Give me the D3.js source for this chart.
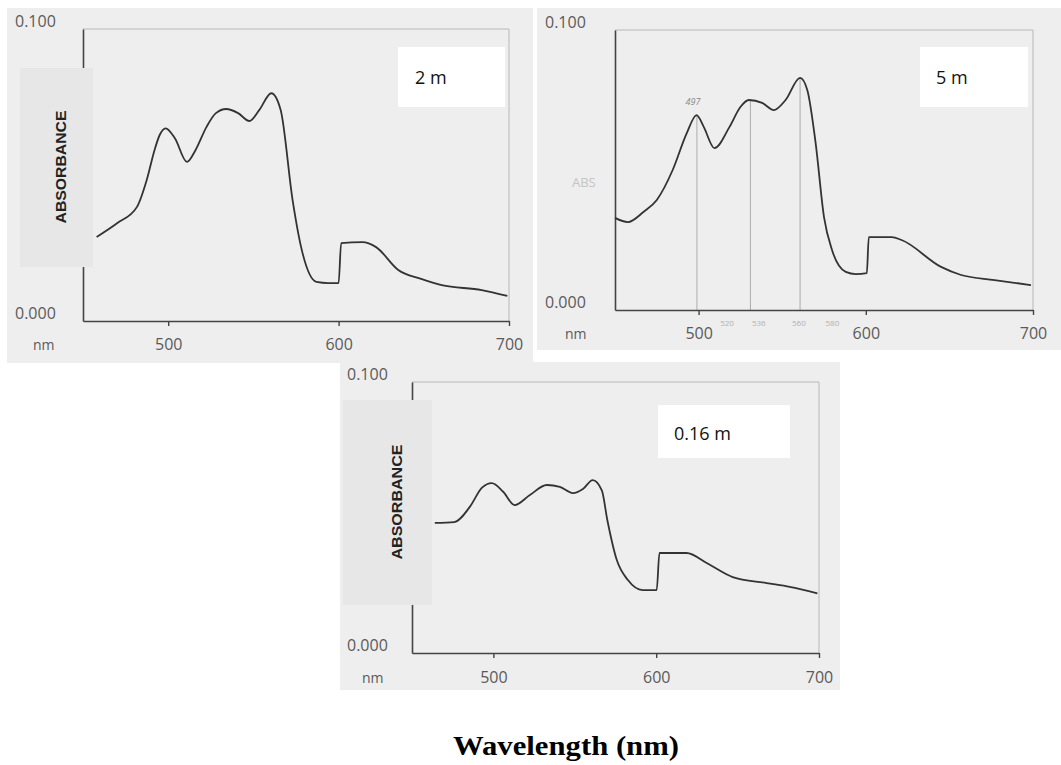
<!DOCTYPE html>
<html>
<head>
<meta charset="utf-8">
<script src="https://cdn.jsdelivr.net/npm/d3@7"></script>
<style>
  body { margin: 0; background: #fff; }
  svg { display: block; }
  .scan-text { font-family: 'Liberation Sans Narrow', 'Open Sans', sans-serif; fill: #5a5a5a; }
  .tag { font-family: 'Open Sans', 'Liberation Sans', sans-serif; fill: #111; }
</style>
</head>
<body>
<div id="box-div"></div>
<script>
// - data
const wavelengths2m = [458, 470, 481.6, 487.4, 492, 495, 498.5, 504, 511, 516, 522.5, 528, 534, 541, 547.7, 553.5, 560.5, 566, 573, 578, 587, 594, 600, 601.5, 614, 622, 635, 648, 660.5, 684, 699]
const absorb2m = [0.0288, 0.0335, 0.039, 0.0483, 0.0586, 0.0637, 0.066, 0.0625, 0.0545, 0.0585, 0.0665, 0.0712, 0.0726, 0.0712, 0.0685, 0.0723, 0.078, 0.0723, 0.0414, 0.0253, 0.0134, 0.013, 0.013, 0.0267, 0.027, 0.0253, 0.0175, 0.0145, 0.0123, 0.0106, 0.0086]

const wavelengths5m = [450, 457.7, 467, 475, 484.5, 492.8, 498.8, 503, 509.5, 518.5, 525, 530, 538, 545, 552, 560.7, 565, 570, 575, 579.8, 588, 594, 600.6, 601.8, 615.5, 621.4, 645, 657, 677, 698.8]
const absorb5m = [0.0329, 0.0314, 0.035, 0.0393, 0.05, 0.063, 0.0696, 0.0655, 0.0578, 0.0654, 0.0725, 0.075, 0.074, 0.0714, 0.075, 0.0829, 0.0786, 0.0596, 0.0332, 0.0214, 0.0136, 0.0128, 0.0132, 0.026, 0.026, 0.025, 0.0154, 0.0125, 0.0107, 0.0089]

const wavelengths016m = [464, 476, 485.6, 493, 499, 506, 513, 522.4, 532.8, 540.8, 548.8, 555, 561, 566.6, 570, 575.8, 582.5, 591.7, 600.3, 602, 618.7, 631, 647, 667.8, 682, 699]
const absorb016m = [0.048, 0.0483, 0.054, 0.061, 0.0627, 0.0595, 0.0546, 0.0583, 0.062, 0.0613, 0.059, 0.0605, 0.0638, 0.06, 0.049, 0.0343, 0.027, 0.0232, 0.0232, 0.0369, 0.0369, 0.0332, 0.028, 0.0258, 0.0244, 0.022]

const panelLabels = ['2 m', '5 m', '0.16 m']
const xTicks = [500, 600, 700]
const yTickLabels = ['0.000', '0.100']
const guideWavelengths = [499, 531, 560.7]   // thin markers drawn on the 5 m scan
const guideAbsorb = [0.0696, 0.075, 0.0829]
const guideNotes = ['520', '536', '560', '580']
const guideNoteWavelengths = [517, 536, 560, 580]

const series = [
  { w: wavelengths2m, a: absorb2m },
  { w: wavelengths5m, a: absorb5m },
  { w: wavelengths016m, a: absorb016m },
]

// - layout of each scanned panel (pixels)
const panels = [
  { scan: [7, 8, 526, 355], left: 83, right: 509, top: 29, bottom: 321,
    tagBox: [398, 47, 107, 60], tagX: 415, tagY: 84,
    yLabelX: 15, nmX: 33, labelRow: 350, absBox: [20, 68, 73, 199], absText: [61, 167, 113] },
  { scan: [537, 8, 524, 342], left: 615, right: 1033, top: 30, bottom: 310,
    tagBox: [920, 47, 108, 60], tagX: 936, tagY: 84,
    yLabelX: 545, nmX: 565, labelRow: 339, absFaint: [572, 187] },
  { scan: [340, 362, 500, 328], left: 412, right: 819, top: 382, bottom: 653,
    tagBox: [658, 405, 132, 53], tagX: 674, tagY: 440,
    yLabelX: 347, nmX: 362, labelRow: 683, absBox: [343, 400, 89, 205], absText: [397, 502, 115] },
]

const svg = d3.select('#box-div')
  .append('svg')
  .attr('width', 1061)
  .attr('height', 765)

panels.forEach((p, i) => drawPanel(p, series[i], panelLabels[i], i))

svg.append('text')
  .attr('x', 566)
  .attr('y', 755)
  .attr('text-anchor', 'middle')
  .attr('textLength', 226)
  .attr('lengthAdjust', 'spacingAndGlyphs')
  .style('font-family', "'Liberation Serif', 'Times New Roman', serif")
  .style('font-weight', 'bold')
  .style('font-size', '27px')
  .text('Wavelength (nm)')

function drawPanel(p, s, label, i) {
  const g = svg.append('g')

  // scanned paper
  g.append('rect')
    .attr('x', p.scan[0]).attr('y', p.scan[1])
    .attr('width', p.scan[2]).attr('height', p.scan[3])
    .attr('fill', '#eeeeee')

  const x = d3.scaleLinear().domain([450, 700]).range([p.left, p.right])
  const y = d3.scaleLinear().domain([0, 0.1]).range([p.bottom, p.top])

  // faint plot frame (top + right)
  g.append('path')
    .attr('d', `M${x(450)},${y(0.1)}H${x(700)}V${y(0)}`)
    .attr('fill', 'none')
    .attr('stroke', '#b8b8b8')
    .attr('stroke-width', 1)

  // guide markers (only on the 5 m trace)
  if (i === 1) {
    g.selectAll('line.guide')
      .data(guideWavelengths)
      .join('line')
      .attr('class', 'guide')
      .attr('x1', d => x(d)).attr('x2', d => x(d))
      .attr('y1', y(0)).attr('y2', (d, k) => y(guideAbsorb[k]))
      .attr('stroke', '#9a9a9a')
      .attr('stroke-width', 0.8)
    g.selectAll('text.note')
      .data(guideNotes)
      .join('text')
      .attr('class', 'scan-text note')
      .attr('x', (d, k) => x(guideNoteWavelengths[k]))
      .attr('y', y(0) + 16)
      .attr('text-anchor', 'middle')
      .style('font-size', '8px')
      .style('fill', '#b0b0b0')
      .text(d => d)
    g.append('text')
      .attr('class', 'scan-text')
      .attr('x', x(guideWavelengths[0]) - 4)
      .attr('y', y(guideAbsorb[0]) - 10)
      .attr('text-anchor', 'middle')
      .style('font-size', '9px')
      .style('font-style', 'italic')
      .style('fill', '#888')
      .text('497')
  }

  // x axis
  const xAxis = d3.axisBottom(x)
    .tickValues(xTicks)
    .tickSize(5)
    .tickSizeOuter(0)
    .tickPadding(9)
    .tickFormat(d3.format('d'))
  const xa = g.append('g')
    .attr('transform', `translate(0,${p.bottom})`)
    .call(xAxis)
  xa.select('.domain').attr('stroke', '#444').attr('stroke-width', 1.6)
  xa.selectAll('.tick line').attr('stroke', '#444').attr('stroke-width', 1.4)
  xa.selectAll('.tick text')
    .attr('class', 'scan-text')
    .attr('dy', null)
    .attr('y', p.labelRow - p.bottom)
    .style('font-size', '16px')

  // y axis line
  const ya = g.append('g')
    .attr('transform', `translate(${p.left},0)`)
    .call(d3.axisLeft(y).tickValues([]).tickSizeOuter(0))
  ya.select('.domain').attr('stroke', '#444').attr('stroke-width', 1.6)

  g.selectAll('text.ylab')
    .data(yTickLabels)
    .join('text')
    .attr('class', 'scan-text ylab')
    .attr('x', p.yLabelX)
    .attr('y', (d, k) => y(k * 0.1) - 2)
    .style('font-size', '16px')
    .text(d => d)

  g.append('text')
    .attr('class', 'scan-text')
    .attr('x', p.nmX)
    .attr('y', p.labelRow)
    .style('font-size', '14px')
    .text('nm')

  // spectrum
  const line = d3.line()
    .x((d, k) => x(s.w[k]))
    .y(d => y(d))
    .curve(d3.curveMonotoneX)
  g.append('path')
    .attr('d', line(s.a))
    .attr('fill', 'none')
    .attr('stroke', '#333')
    .attr('stroke-width', 1.8)

  // pasted-on y label
  if (p.absBox) {
    g.append('rect')
      .attr('x', p.absBox[0]).attr('y', p.absBox[1])
      .attr('width', p.absBox[2]).attr('height', p.absBox[3])
      .attr('fill', '#e7e7e7')
    g.append('text')
      .attr('transform', `translate(${p.absText[0]},${p.absText[1]}) rotate(-90)`)
      .attr('text-anchor', 'middle')
      .attr('dy', '0.35em')
      .attr('textLength', p.absText[2])
      .attr('lengthAdjust', 'spacingAndGlyphs')
      .style('font-family', "'Liberation Sans', Arial, sans-serif")
      .style('font-weight', 'bold')
      .style('font-size', '15px')
      .style('fill', '#222')
      .text('ABSORBANCE')
  }
  if (p.absFaint) {
    g.append('text')
      .attr('class', 'scan-text')
      .attr('x', p.absFaint[0]).attr('y', p.absFaint[1])
      .style('font-size', '13px')
      .style('fill', '#c4c4c4')
      .text('ABS')
  }

  // pasted-on sample tag
  g.append('rect')
    .attr('x', p.tagBox[0]).attr('y', p.tagBox[1])
    .attr('width', p.tagBox[2]).attr('height', p.tagBox[3])
    .attr('fill', '#fff')
  g.append('text')
    .attr('class', 'tag')
    .attr('x', p.tagX).attr('y', p.tagY)
    .style('font-size', '18px')
    .text(label)
}
</script>
</body>
</html>
